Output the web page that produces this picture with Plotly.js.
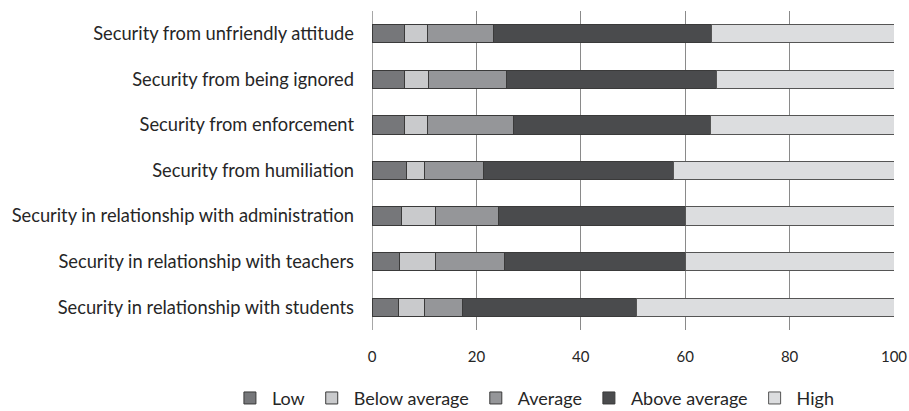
<!DOCTYPE html>
<html>
<head>
<meta charset="utf-8">
<script src="https://cdn.plot.ly/plotly-3.0.1.min.js"></script>
<style>html,body{margin:0;padding:0;background:#fff;}#chart{width:909px;height:411px;}</style>
</head>
<body>
<div id="chart"></div>
<script>
var categories = [
  "Security from unfriendly attitude",
  "Security from being ignored",
  "Security from enforcement",
  "Security from humiliation",
  "Security in relationship with administration",
  "Security in relationship with teachers",
  "Security in relationship with students"
];
var seriesNames = ["Low", "Below average", "Average", "Above average", "High"];
var low          = [6.2, 6.2, 6.2, 6.6, 5.6, 5.3, 5.1];
var belowAverage = [4.5, 4.7, 4.5, 3.4, 6.6, 6.8, 5.0];
var average      = [12.6, 14.8, 16.4, 11.3, 12.0, 13.3, 7.2];
var aboveAverage = [41.8, 40.2, 37.8, 36.5, 35.8, 34.6, 33.3];
var high         = [34.9, 34.1, 35.1, 42.2, 40.0, 40.0, 49.4];
var xTicks = [0, 20, 40, 60, 80, 100];

var seriesValues = [low, belowAverage, average, aboveAverage, high];
var colors = ["#76777a", "#c9cacc", "#959699", "#4a4b4d", "#dcdddf"];
var lineColors = ["#3a3a3a", "#3a3a3a", "#3a3a3a", "#3a3a3a", "#555555"];

var traces = seriesNames.map(function (name, i) {
  return {
    type: "bar",
    orientation: "h",
    name: name,
    y: categories,
    x: seriesValues[i],
    marker: { color: colors[i], line: { color: lineColors[i], width: 1 } },
    hoverinfo: "x+y+name"
  };
});

var font = "Lato, 'Open Sans', sans-serif";
var layout = {
  width: 909,
  height: 411,
  barmode: "stack",
  bargap: 0.6,
  margin: { l: 372, r: 15, t: 11, b: 81, pad: 0, autoexpand: false },
  paper_bgcolor: "#ffffff",
  plot_bgcolor: "#ffffff",
  font: { family: font, size: 18, color: "#262626" },
  xaxis: {
    range: [0, 100],
    tickvals: xTicks,
    ticktext: xTicks.map(String),
    showgrid: true,
    gridcolor: "#8a8a8a",
    gridwidth: 1,
    zeroline: false,
    showline: false,
    ticks: "",
    ticklabelstandoff: 16,
    tickfont: { family: font, size: 15, color: "#262626" },
    fixedrange: true
  },
  yaxis: {
    type: "category",
    autorange: "reversed",
    showgrid: false,
    zeroline: false,
    showline: false,
    ticks: "",
    ticklabelstandoff: 17,
    tickfont: { family: font, size: 18.3, color: "#262626" },
    fixedrange: true
  },
  shapes: [{
    type: "line", xref: "x", yref: "paper", x0: 0, x1: 0, y0: 0, y1: 1,
    line: { color: "#8a8a8a", width: 1.5 }, layer: "below"
  }],
  legend: {
    orientation: "h",
    x: -0.276, xanchor: "left",
    y: -0.214, yanchor: "middle",
    font: { family: font, size: 18, color: "#262626" },
    traceorder: "normal",
    itemwidth: 34
  },
  showlegend: true
};

Plotly.newPlot("chart", traces, layout, { displayModeBar: false, staticPlot: true });
</script>
</body>
</html>
